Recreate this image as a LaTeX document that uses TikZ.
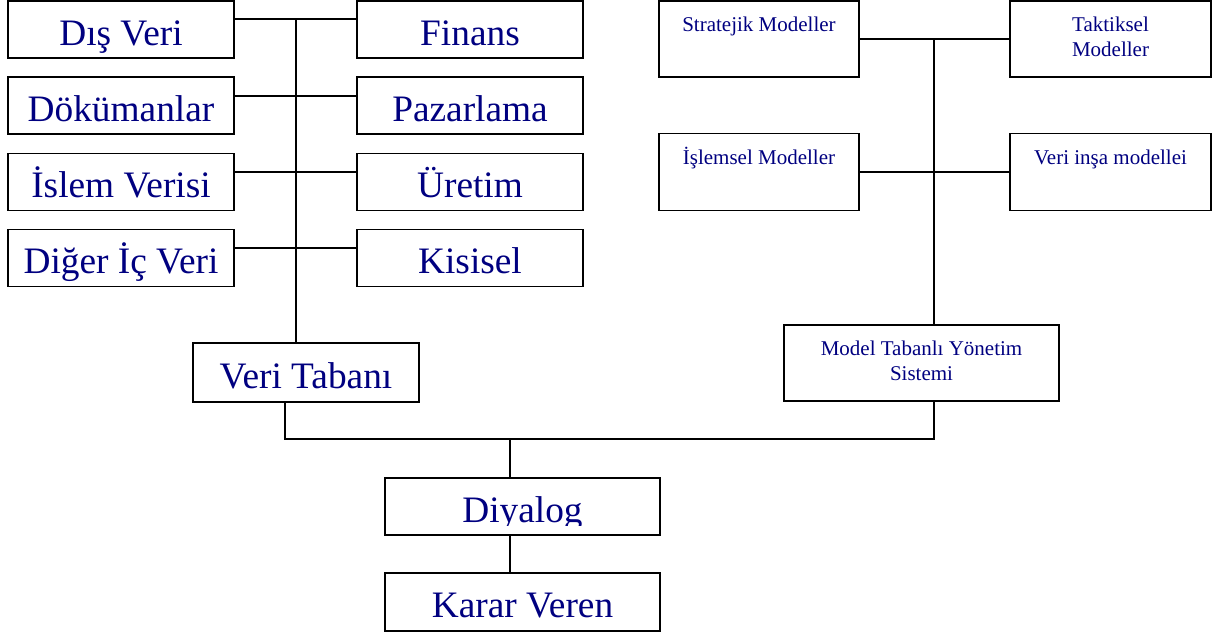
\documentclass[tikz,border=0pt]{standalone}
\usepackage{fontspec}
\setmainfont{Liberation Serif}
\usetikzlibrary{positioning,calc}
\definecolor{navy}{HTML}{000080}

\begin{document}
\begin{tikzpicture}[x=0.75pt,y=-0.75pt]
  % Styles
  \tikzset{
    bigbox/.style={draw, line width=1.4pt, inner sep=0pt, minimum width=169.5pt, minimum height=42.75pt,
      text=navy, font=\fontsize{28}{33}\selectfont, text height=23.8pt, text depth=0pt},
    modelbox/.style={draw, line width=1.4pt, inner sep=0pt, minimum width=150pt, minimum height=57.75pt,
      align=center, text=navy, font=\fontsize{15.75}{18.75}\selectfont, text height=22.5pt, text depth=34.5pt},
    twoline/.style={text height=41.25pt, text depth=15.75pt},
    plaintext/.style={inner sep=0pt, text=navy, font=\fontsize{28}{33}\selectfont, text height=23.8pt, text depth=0pt},
    link/.style={line width=1.5pt},
  }
  \useasboundingbox (0,0) rectangle (1213,633);

  % Data sources (two columns)
  \node[bigbox] (dis)   at (121,29.5)  {Dış Veri};
  \node[bigbox] (dok)   at (121,105.5) {Dökümanlar};
  \node[bigbox] (islem) at (121,182)   {İslem Verisi};
  \node[bigbox] (diger) at (121,258)   {Diğer İç Veri};
  \node[bigbox] (fin)   at (470,29.5)  {Finans};
  \node[bigbox] (paz)   at (470,105.5) {Pazarlama};
  \node[bigbox] (uret)  at (470,182)   {Üretim};
  \node[bigbox] (kis)   at (470,258)   {Kisisel};
  \node[bigbox, minimum height=44.25pt] (vt) at (306,372.5) {Veri Tabanı};

  % Models
  \node[modelbox, minimum height=57pt] (strat) at (759,39) {Stratejik Modeller};
  \node[modelbox, twoline, minimum width=150.75pt, minimum height=57pt] (takt) at (1110.5,39) {Taktiksel\\Modeller};
  \node[modelbox] (islm)  at (759,172)   {İşlemsel Modeller};
  \node[modelbox, minimum width=150.75pt] (insa) at (1110.5,172) {Veri inşa modellei};
  \node[modelbox, twoline, minimum width=206.25pt, minimum height=57pt] (mtys) at (921.5,363) {Model Tabanlı Yönetim\\Sistemi};

  % Dialog and user
  \node[bigbox, minimum width=206.25pt] (dlg) at (522.5,506.5) {};
  \begin{scope}
    \clip (dlg.north west) rectangle ([yshift=8pt]dlg.south east);
    \node[plaintext] (dlgtext) at (dlg.center) {Diyalog};
  \end{scope}
  \node[bigbox, minimum width=206.25pt, minimum height=43.5pt] (kv) at (522.5,602) {Karar Veren};

  % Junction points
  \coordinate (dtop) at (296,19);
  \coordinate (mtop) at (934,39);
  \coordinate (dbus) at (285,439);
  \coordinate (mbus) at (934,439);
  \coordinate (join) at (510,439);

  % Links
  \draw[link] ([yshift=7.875pt]dis.east) -- ([yshift=7.875pt]fin.west);
  \draw[link] ([yshift=7.125pt]dok.east) -- ([yshift=7.125pt]paz.west);
  \draw[link] ([yshift=7.5pt]islem.east) -- ([yshift=7.5pt]uret.west);
  \draw[link] ([yshift=7.5pt]diger.east) -- ([yshift=7.5pt]kis.west);
  \draw[link] (dtop) -- (vt.north -| dtop);

  \draw[link] (strat.east) -- (takt.west);
  \draw[link] (islm.east) -- (insa.west);
  \draw[link] (mtop) -- (mtys.north -| mtop);

  \draw[link] (vt.south -| dbus) -- (dbus) -- (mbus) -- (mtys.south -| mbus);
  \draw[link] (join) -- (dlg.north -| join);
  \draw[link] (dlg.south -| join) -- (kv.north -| join);
\end{tikzpicture}
\end{document}
